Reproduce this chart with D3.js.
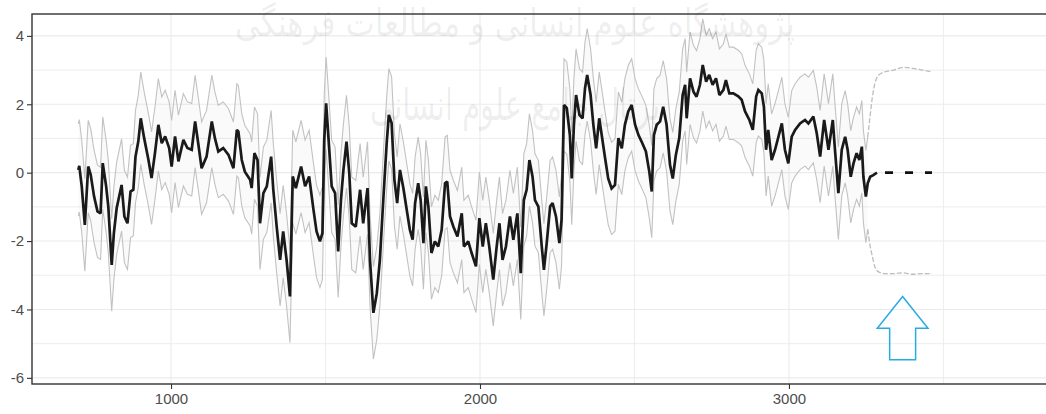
<!DOCTYPE html>
<html>
<head>
<meta charset="utf-8">
<script src="https://cdn.jsdelivr.net/npm/d3@7"></script>
<style>
  body { margin: 0; background: #fff; }
  svg { display: block; }
  .tick text { font-family: "Liberation Sans", Arial, sans-serif; }
</style>
</head>
<body>
<div class="chart"></div>
<script>
// smoothed level (black line)
var times = [700,703,711,721,732,740,751,762,772,779,790,797,808,815,824,840,849,859,869,878,
  885,894,902,913,927,937,948,959,970,981,994,1002,1013,1024,1040,1053,1067,1078,1088,1099,
  1115,1132,1142,1153,1169,1186,1202,1213,1218,1229,1239,1256,1261,1270,1280,1288,1299,1310,1324,1331,
  1342,1353,1363,1374,1385,1394,1404,1421,1434,1447,1461,1471,1482,1490,1496,1502,1509,1520,1531,1541,
  1550,1558,1568,1577,1585,1598,1612,1622,1636,1644,1655,1666,1676,1687,1698,1705,1714,1723,1732,1741,
  1752,1763,1773,1782,1790,1800,1808,1817,1825,1833,1843,1854,1865,1876,1887,1894,1903,1914,1927,1941,
  1948,1962,1973,1987,1998,2009,2019,2030,2043,2054,2063,2073,2084,2097,2108,2121,2132,2142,2151,2160,
  2170,2178,2189,2200,2207,2216,2227,2235,2246,2257,2264,2268,2272,2281,2291,2297,2304,2311,2322,2332,
  2340,2347,2358,2367,2376,2386,2394,2405,2415,2426,2437,2448,2459,2469,2480,2491,2502,2513,2523,2537,
  2548,2556,2563,2572,2583,2593,2604,2615,2624,2634,2645,2656,2664,2669,2680,2691,2701,2712,2721,2732,
  2742,2753,2764,2775,2788,2796,2807,2820,2836,2847,2858,2872,2883,2894,2901,2912,2919,2926,2933,2944,
  2955,2966,2977,2987,2998,3009,3020,3036,3052,3063,3079,3090,3101,3114,3128,3142,3149,3160,3171,3182,
  3190,3200,3209,3219,3228,3236,3241,3249,3255,3263,3273,3285];
var level = [0.08,0.2,-0.4,-1.53,0.18,-0.06,-0.7,-1.13,-1.19,0.28,-0.4,-0.99,-2.7,-1.77,-1.04,-0.36,-1.28,-1.48,-0.55,-0.5,
  0.47,0.91,1.59,1.01,0.37,-0.16,0.57,1.4,0.86,1.06,0.72,0.18,1.06,0.33,0.96,0.72,0.67,1.5,0.86,0.13,
  0.47,1.5,1.01,0.62,0.72,0.52,0.13,1.25,1.2,0.37,0.03,-0.21,-0.45,0.57,0.37,-1.48,-0.6,-0.4,0.47,-0.5,
  -1.58,-2.55,-1.72,-2.55,-3.62,-0.11,-0.45,0.18,-0.4,-0.11,-1.08,-1.72,-2.01,-1.77,0.96,2.03,1.1,-0.4,-0.6,-2.3,
  -0.8,0.08,0.91,-0.02,-1.48,-1.58,-0.5,-1.48,-0.45,-2.55,-4.1,-3.53,-2.55,-0.8,0.86,1.69,1.45,-0.21,-0.89,0.08,
  -0.45,-1.09,-1.67,-1.96,-0.89,-0.31,-0.8,-2.06,-0.4,-0.99,-2.35,-2.01,-2.16,-1.67,-0.31,-0.26,-1.28,-1.58,-1.87,-1.19,
  -2.16,-2.01,-2.35,-2.74,-1.33,-2.16,-1.48,-2.16,-3.13,-2.16,-1.48,-2.55,-2.16,-1.28,-1.96,-1.19,-2.94,-0.8,-0.5,0.37,
  -0.11,-0.8,-0.99,-2.16,-2.84,-2.06,-0.99,-0.89,-1.28,-2.06,-1.38,0.3,1.98,1.89,1.1,-0.17,1.4,2.27,1.69,1.59,
  2.47,2.86,2.27,1.4,0.71,1.59,1.1,0.42,-0.17,-0.46,-0.36,1.01,0.71,1.4,1.79,1.98,1.4,1.1,0.91,0.62,
  0.03,-0.55,1.1,1.4,1.5,1.93,1.4,0.23,-0.17,0.52,1.01,2.27,2.57,1.59,2.76,2.37,2.22,2.57,3.15,2.66,
  2.86,2.57,2.76,2.27,2.42,2.71,2.32,2.32,2.23,2.13,1.79,1.54,1.25,2.23,2.42,2.32,1.93,0.67,1.25,0.37,
  0.67,1.05,1.44,0.67,0.27,1.05,1.25,1.44,1.54,1.44,1.64,1.15,0.47,1.54,0.67,1.54,0.67,-0.6,0.67,1.05,
  0.67,-0.12,0.27,0.57,0.37,0.76,-0.12,-0.7,-0.31,-0.12,-0.07,0];
var bandHalf = 1.35;      // half width of the grey interval
var bandEnd = 3255;

// forecast part
var fcTimes = [3311, 3463];
var fcMean = [0, 0];
var fcBoundTimes = [3255, 3262, 3270, 3278, 3290, 3310, 3340, 3370, 3400, 3430, 3463];
var fcUpper = [1.04, 1.6, 2.2, 2.6, 2.85, 2.95, 3.0, 3.08, 3.05, 3.0, 2.95];
var fcLower = [-1.66, -2.1, -2.45, -2.75, -2.9, -2.95, -2.95, -2.93, -2.97, -2.95, -2.95];

// blue arrow marker (data units)
var arrowTip = [3368, -3.62];
var arrowHead = [82, -4.55];   // half width, y of head base
var arrowShaft = [42, -5.47];  // half width, y of bottom

var xTicks = [1000, 2000, 3000], xMinor = [1500, 2500, 3500];
var yTicks = [-6, -4, -2, 0, 2, 4], yMinor = [-5, -3, -1, 1, 3];

const W = 1046, H = 414;
const margin = {top: 14, right: -4, bottom: 30, left: 32};

const svg = d3.select(".chart").append("svg")
  .attr("width", W).attr("height", H);

const x = d3.scaleLinear().domain([550, 3845]).range([margin.left, W - margin.right]);
const y = d3.scaleLinear().domain([-6.18, 4.64]).range([H - margin.bottom, margin.top]);

const data = times.map((t, i) => ({t: t, v: level[i]}));
const band = data.filter(d => d.t <= bandEnd);
const fcB = fcBoundTimes.map((t, i) => ({t: t, hi: fcUpper[i], lo: fcLower[i]}));

// grid
const grid = svg.append("g");
grid.selectAll(".gmy").data(yMinor.concat(yTicks)).join("line")
  .attr("x1", margin.left).attr("x2", W)
  .attr("y1", d => y(d)).attr("y2", d => y(d))
  .attr("stroke", "#ebebeb").attr("stroke-width", d => yTicks.includes(d) ? 1.1 : 0.9);
grid.selectAll(".gmx").data(xMinor.concat(xTicks)).join("line")
  .attr("y1", y.range()[0]).attr("y2", y.range()[1])
  .attr("x1", d => x(d)).attr("x2", d => x(d))
  .attr("stroke", "#ebebeb").attr("stroke-width", d => xTicks.includes(d) ? 1.1 : 0.9);

// ribbon
svg.append("path").datum(band)
  .attr("fill", "#000").attr("fill-opacity", 0.02)
  .attr("d", d3.area().x(d => x(d.t)).y0(d => y(d.v - bandHalf)).y1(d => y(d.v + bandHalf)));

["hi", "lo"].forEach(function(k){
  svg.append("path").datum(band)
    .attr("fill", "none").attr("stroke", "#c2c2c2").attr("stroke-width", 1.1)
    .attr("d", d3.line().x(d => x(d.t)).y(d => y(k == "hi" ? d.v + bandHalf : d.v - bandHalf)));
  svg.append("path").datum(fcB)
    .attr("fill", "none").attr("stroke", "#bdbdbd").attr("stroke-width", 1.3)
    .attr("stroke-dasharray", "5,2")
    .attr("d", d3.line().curve(d3.curveMonotoneX).x(d => x(d.t)).y(d => y(d[k])));
});

// level
svg.append("path").datum(data)
  .attr("fill", "none").attr("stroke", "#1a1a1a").attr("stroke-width", 2.7)
  .attr("stroke-linejoin", "miter").attr("stroke-miterlimit", 2)
  .attr("d", d3.line().x(d => x(d.t)).y(d => y(d.v)));

svg.append("path").datum(fcTimes.map((t, i) => ({t: t, v: fcMean[i]})))
  .attr("fill", "none").attr("stroke", "#111").attr("stroke-width", 2.6)
  .attr("stroke-dasharray", "8,12")
  .attr("d", d3.line().x(d => x(d.t)).y(d => y(d.v)));

// arrow
const ax = arrowTip[0];
const arrowPts = [
  [ax, arrowTip[1]], [ax + arrowHead[0], arrowHead[1]], [ax + arrowShaft[0], arrowHead[1]],
  [ax + arrowShaft[0], arrowShaft[1]], [ax - arrowShaft[0], arrowShaft[1]],
  [ax - arrowShaft[0], arrowHead[1]], [ax - arrowHead[0], arrowHead[1]]
];
svg.append("polygon")
  .attr("points", arrowPts.map(p => x(p[0]) + "," + y(p[1])).join(" "))
  .attr("fill", "none").attr("stroke", "#29abe2").attr("stroke-width", 1.5);

// watermark
svg.append("text").attr("x", 515).attr("y", 36)
  .attr("text-anchor", "middle").attr("font-family", "DejaVu Sans")
  .attr("font-size", 38).attr("fill", "#000").attr("fill-opacity", 0.08)
  .attr("textLength", 560).attr("lengthAdjust", "spacingAndGlyphs")
  .text("پژوهشگاه علوم انسانی و مطالعات فرهنگی");
svg.append("text").attr("x", 515).attr("y", 120)
  .attr("text-anchor", "middle").attr("font-family", "DejaVu Sans")
  .attr("font-size", 44).attr("fill", "#000").attr("fill-opacity", 0.08)
  .attr("textLength", 290).attr("lengthAdjust", "spacingAndGlyphs")
  .text("پرتال جامع علوم انسانی");

// panel border
svg.append("rect")
  .attr("x", margin.left).attr("y", margin.top)
  .attr("width", W - margin.left + 10).attr("height", y.range()[0] - margin.top)
  .attr("fill", "none").attr("stroke", "#333").attr("stroke-width", 1.4);

// axes
const gx = svg.append("g").attr("transform", `translate(0,${y.range()[0]})`)
  .call(d3.axisBottom(x).tickValues(xTicks).tickFormat(d3.format("d")).tickSize(5).tickPadding(4));
const gy = svg.append("g").attr("transform", `translate(${margin.left},0)`)
  .call(d3.axisLeft(y).tickValues(yTicks).tickFormat(d => String(d)).tickSize(5).tickPadding(3));
[gx, gy].forEach(function(g){
  g.select(".domain").remove();
  g.selectAll(".tick line").attr("stroke", "#333").attr("stroke-width", 1.1);
  g.selectAll(".tick text").attr("fill", "#4d4d4d").attr("font-size", 15);
});
</script>
</body>
</html>
